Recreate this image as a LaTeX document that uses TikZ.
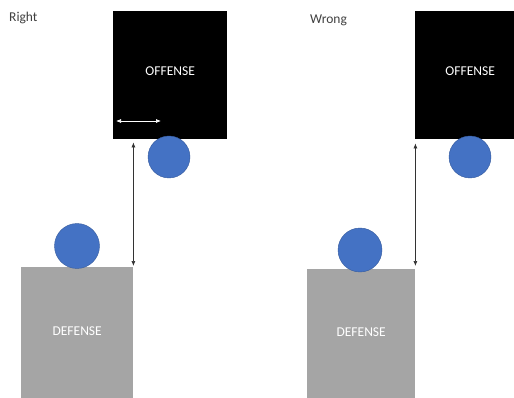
\documentclass[tikz,border=0pt]{standalone}
\usepackage{fontspec}
\setmainfont{Carlito}
\usetikzlibrary{arrows.meta,positioning}
\definecolor{ballblue}{HTML}{4472C4}
\definecolor{defgray}{HTML}{A5A5A5}
\tikzset{
 offbox/.style={fill=black,text=white,anchor=north west,inner sep=0pt,font=\fontsize{13.5}{15}\selectfont},
 defbox/.style={fill=defgray,text=white,anchor=north west,inner sep=0pt,font=\fontsize{13.5}{15}\selectfont},
 ball/.style={circle,fill=ballblue,draw=ballblue!80!black,line width=0.4pt,minimum size=42pt,inner sep=0pt},
 caption/.style={anchor=west,inner sep=0pt,text=black!75,font=\fontsize{13.5}{15}\selectfont},
 gap/.style={{Latex[length=5pt,width=4pt]}-{Latex[length=5pt,width=4pt]},line width=0.7pt,draw=black!80},
 wgap/.style={gap,draw=white}
}
\begin{document}
\begin{tikzpicture}[x=1pt,y=-1pt]
 \clip (0,0) rectangle (514,398);
 \fill[white] (0,0) rectangle (514,398);
 % right way
 \node[caption] (right) at (9,18) {Right};
 \node[offbox,minimum width=114pt,minimum height=128pt] (off1) at (113,11) {\raisebox{8pt}{OFFENSE}};
 \node[defbox,minimum width=112pt,minimum height=131pt] (def1) at (21,267) {\raisebox{4pt}{DEFENSE}};
 \node[ball] (ball1) at (169,157) {};
 \node[ball,minimum size=45pt] (ball2) at (77,246) {};
 \coordinate (w1) at (116,121);
 \coordinate (w2) at (161,121);
 \draw[wgap] (w1) -- (w2);
 \draw[gap,shorten >=3pt,shorten <=1pt] (def1.north east) -- (def1.north east |- off1.south);
 % wrong way
 \node[caption] (wrong) at (310,20) {Wrong};
 \node[offbox,minimum width=110pt,minimum height=128pt] (off2) at (415,11) {\raisebox{8pt}{OFFENSE}};
 \node[defbox,minimum width=108pt,minimum height=129pt] (def2) at (307,269) {\raisebox{4pt}{DEFENSE}};
 \node[ball] (ball3) at (470,157) {};
 \node[ball,minimum size=44pt] (ball4) at (360,250) {};
 \draw[gap,shorten >=4pt,shorten <=3pt] (def2.north east) -- (def2.north east |- off2.south);
\end{tikzpicture}
\end{document}
